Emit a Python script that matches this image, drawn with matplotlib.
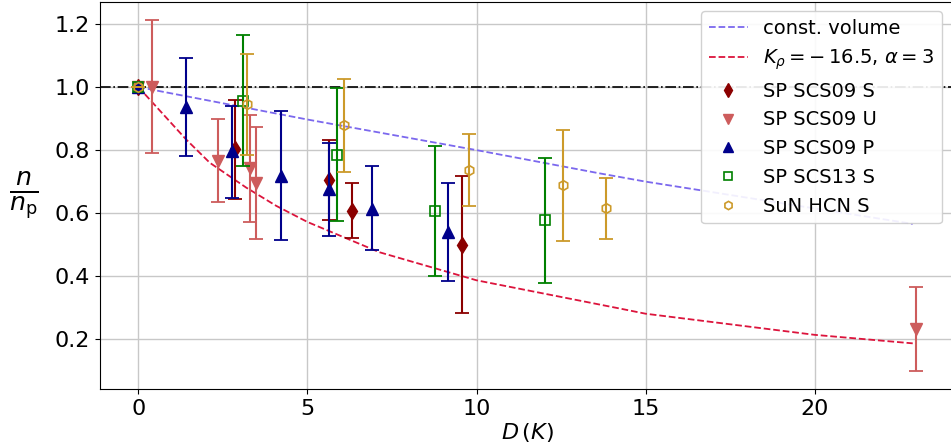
import matplotlib
matplotlib.use("Agg")
import matplotlib.pyplot as plt
import numpy as np

# ---- data ----
# model curves
cv_D = [0.0, 5.0, 10.0, 13.6, 15.0, 16.6, 20.0, 22.9]
cv_n = [1.0, 0.897, 0.800, 0.727, 0.700, 0.673, 0.615, 0.566]

k_D = [0.0, 1.41, 2.11, 3.19, 4.08, 5.0, 7.13, 10.0, 14.26, 15.0, 20.0, 22.9]
k_n = [1.0, 0.834, 0.760, 0.681, 0.623, 0.572, 0.476, 0.387, 0.297, 0.281, 0.214, 0.187]

# SP SCS09 S
s09s_D = [0.0, 2.87, 5.64, 6.33, 9.57]
s09s_n = [1.0, 0.804, 0.704, 0.608, 0.499]
s09s_lo = [1.0, 0.644, 0.579, 0.520, 0.282]
s09s_hi = [1.0, 0.960, 0.831, 0.696, 0.717]

# SP SCS09 U
s09u_D = [0.0, 0.40, 2.36, 3.31, 3.48, 23.0]
s09u_n = [1.0, 1.0, 0.765, 0.744, 0.697, 0.234]
s09u_lo = [1.0, 0.792, 0.635, 0.571, 0.518, 0.098]
s09u_hi = [1.0, 1.214, 0.899, 0.910, 0.873, 0.366]

# SP SCS09 P
s09p_D = [0.0, 1.42, 2.77, 4.22, 5.63, 6.92, 9.15]
s09p_n = [1.0, 0.937, 0.797, 0.718, 0.676, 0.613, 0.539]
s09p_lo = [1.0, 0.782, 0.649, 0.516, 0.526, 0.483, 0.384]
s09p_hi = [1.0, 1.093, 0.941, 0.923, 0.823, 0.749, 0.696]

# SP SCS13 S
s13s_D = [0.0, 3.10, 5.87, 8.77, 12.02]
s13s_n = [1.0, 0.955, 0.786, 0.606, 0.578]
s13s_lo = [1.0, 0.750, 0.576, 0.402, 0.379]
s13s_hi = [1.0, 1.166, 0.998, 0.812, 0.776]

# SuN HCN S
sun_D = [0.0, 3.21, 6.09, 9.78, 12.56, 13.83]
sun_n = [1.0, 0.947, 0.880, 0.737, 0.690, 0.615]
sun_lo = [1.0, 0.784, 0.730, 0.623, 0.512, 0.519]
sun_hi = [1.0, 1.106, 1.027, 0.852, 0.865, 0.711]

series = [
    ("SP SCS09 S", s09s_D, s09s_n, s09s_lo, s09s_hi, "d", "darkred", True),
    ("SP SCS09 U", s09u_D, s09u_n, s09u_lo, s09u_hi, "v", "indianred", True),
    ("SP SCS09 P", s09p_D, s09p_n, s09p_lo, s09p_hi, "^", "darkblue", True),
    ("SP SCS13 S", s13s_D, s13s_n, s13s_lo, s13s_hi, "s", "green", False),
    ("SuN HCN S", sun_D, sun_n, sun_lo, sun_hi, "h", "#cc9a2a", False),
]

fig = plt.figure(figsize=(9.51, 4.46), dpi=100)
ax = fig.add_axes([99.5 / 951, 57 / 446, (955 - 99.5) / 951, (389 - 2) / 446])

ax.grid(True, color="#c8c8c8", linewidth=1.0, zorder=0)
ax.set_axisbelow(True)

ax.plot(cv_D, cv_n, "--", color="mediumslateblue", lw=1.3, label="const. volume")
ax.plot(k_D, k_n, "--", color="crimson", lw=1.3,
        label=r"$K_\rho=-\,16.5$, $\alpha=3$")
ax.axhline(1.0, color="black", ls="-.", lw=1.2)

for name, D, n, lo, hi, m, c, filled in series:
    D = np.array(D); n = np.array(n)
    yerr = np.vstack([n - np.array(lo), np.array(hi) - n])
    ax.errorbar(D, n, yerr=yerr, fmt="none", ecolor=c, elinewidth=1.5, capsize=5, capthick=1.3)
    ms = 8 if m in ("d", "v", "^") else 7
    if filled:
        ax.plot(D, n, m, color=c, ms=ms, ls="none", label=name)
    else:
        ax.plot(D, n, m, mfc="none", mec=c, mew=1.2, ms=ms, ls="none", label=name)

ax.tick_params(labelsize=16)
ax.set_xticks([0, 5, 10, 15, 20])
ax.set_yticks([0.2, 0.4, 0.6, 0.8, 1.0, 1.2])
ax.set_xlabel(r"$D\,(K)$", fontsize=16, labelpad=2)
ax.set_ylabel(r"$\frac{n}{n_\mathrm{p}}$", fontsize=26, rotation=0, labelpad=22, va="center")

leg = ax.legend(loc="upper left", bbox_to_anchor=(701 / 951, 1 - 11 / 446),
                bbox_transform=fig.transFigure, borderaxespad=0.0, fontsize=14,
                labelspacing=0.5, framealpha=0.9, handlelength=2.0, markerscale=0.85)

fig.savefig("out.png", dpi=100)
